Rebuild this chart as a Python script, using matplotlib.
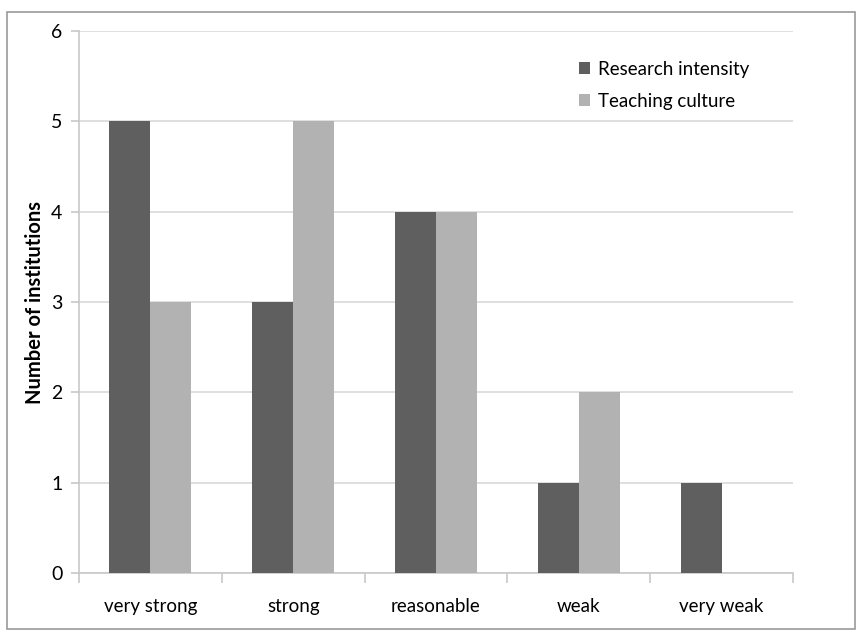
import numpy as np
import matplotlib.pyplot as plt
from matplotlib.patches import Rectangle

# ratings and counts per category
categories = ['very strong', 'strong', 'reasonable', 'weak', 'very weak']
research_intensity = [5, 3, 4, 1, 1]
teaching_culture = [3, 5, 4, 2, 0]
series_names = ['Research intensity', 'Teaching culture']
y_ticks = [0, 1, 2, 3, 4, 5, 6]

dark = '#5f5f5f'
light = '#b2b2b2'

plt.rcParams['font.family'] = ['Lato', 'DejaVu Sans']

fig = plt.figure(figsize=(8.57, 6.35), dpi=100)
W, H = 857, 635

# chart frame around everything
fig.patches.append(Rectangle((7 / W, 1 - 629 / H), 848 / W, (629 - 12) / H,
                             transform=fig.transFigure, fill=False,
                             edgecolor='#9a9a9a', linewidth=1.2))

ax = fig.add_axes([79 / W, 1 - 573 / H, (793 - 79) / W, (573 - 31) / H])

x = np.arange(len(categories))
bw = 0.287
ax.bar(x - bw / 2, research_intensity, bw, color=dark, label=series_names[0], zorder=3)
ax.bar(x + bw / 2, teaching_culture, bw, color=light, label=series_names[1], zorder=3)

ax.set_xlim(-0.5, len(categories) - 0.5)
ax.set_ylim(0, 6)
ax.set_yticks(y_ticks)
ax.grid(axis='y', color='#d9d9d9', linewidth=1.2, zorder=0)

for s in ['top', 'right']:
    ax.spines[s].set_visible(False)
ax.spines['left'].set_color('#c8c8c8')
ax.spines['bottom'].set_color('#c8c8c8')
ax.spines['left'].set_linewidth(1.2)
ax.spines['bottom'].set_linewidth(1.2)

# category labels centred, tick marks on boundaries
ax.set_xticks(x)
ax.set_xticklabels(categories, fontsize=13.5)
ax.tick_params(axis='x', length=0, pad=18)
ax.set_xticks(np.arange(-0.5, len(categories)), minor=True)
ax.tick_params(axis='x', which='minor', length=7, color='#c8c8c8', width=1.2)
ax.tick_params(axis='y', length=6, color='#c8c8c8', width=1.2, labelsize=14, pad=6)

ax.set_ylabel('Number of institutions', fontsize=14.5, fontweight='bold')
ax.yaxis.set_label_coords(-0.047, 0.5)

ax.legend(loc='upper left', bbox_to_anchor=(562 / W, 1 - 44 / H),
          bbox_transform=fig.transFigure, frameon=False, fontsize=13.5,
          handlelength=0.6, handleheight=0.6, handletextpad=0.4,
          labelspacing=0.8)

fig.savefig('out.png', dpi=100)
